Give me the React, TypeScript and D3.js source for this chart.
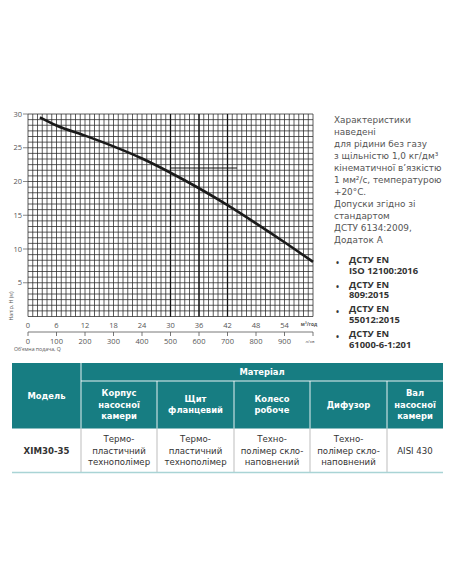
import * as d3 from 'd3'

const W = 452
const H = 584

// performance curve
const flowM3h = [2.5, 6, 12, 18, 24, 30, 36, 42, 48, 54, 60]
const headM = [29.5, 28.3, 26.8, 25.2, 23.4, 21.3, 19.0, 16.5, 13.8, 11.0, 8.1]

const qTicks = [0, 6, 12, 18, 24, 30, 36, 42, 48, 54]
const lpmTicks = [0, 100, 200, 300, 400, 500, 600, 700, 800, 900]
const headTicks = [5, 10, 15, 20, 25, 30]
const markedFlows = [30, 36, 42]
const dutyPoint = { q0: 30, q1: 44, h: 22 }

const noteLines = [
  'Характеристики',
  'наведені',
  'для рідини без газу',
  'з щільністю 1,0 кг/дм³',
  'кінематичної в’язкістю',
  '1 мм²/с, температурою',
  '+20°C.',
  'Допуски згідно зі',
  'стандартом',
  'ДСТУ 6134:2009,',
  'Додаток А',
]
const standards = [
  ['ДСТУ EN', 'ISO 12100:2016'],
  ['ДСТУ EN', '809:2015'],
  ['ДСТУ EN', '55012:2015'],
  ['ДСТУ EN', '61000-6-1:201'],
]

const modelHeader = 'Модель'
const groupHeader = 'Матеріал'
const partHeaders = [
  ['Корпус', 'насосної', 'камери'],
  ['Щит', 'фланцевий'],
  ['Колесо', 'робоче'],
  ['Дифузор'],
  ['Вал', 'насосної', 'камери'],
]
const modelName = 'ХІМ30-35'
const partMaterials = [
  ['Термо-', 'пластичний', 'технополімер'],
  ['Термо-', 'пластичний', 'технополімер'],
  ['Техно-', 'полімер скло-', 'наповнений'],
  ['Техно-', 'полімер скло-', 'наповнений'],
  ['AISI 430'],
]

const TEAL = '#177d82'
const FONT = '"Open Sans", "Noto Sans", sans-serif'
const WIDE_FONT = '"DejaVu Sans", "Open Sans", sans-serif'
const GRID_COLOR = '#262626'

const x = d3.scaleLinear([0, 60], [28, 313])
const xl = d3.scaleLinear([0, 1000], [28, 313])
const y = d3.scaleLinear([0, 30], [316.5, 114])

// table column edges
const colEdges = [12, 81, 157, 234, 310, 387, 443]
const TABLE_TOP = 363
const GROUP_BOTTOM = 381
const HEAD_BOTTOM = 428.5
const ROW_BOTTOM = 472.5

function MultiLine({ lines, cx, cy, lh, ...rest }: any) {
  const top = cy - ((lines.length - 1) * lh) / 2
  return (
    <text textAnchor="middle" {...rest}>
      {lines.map((l: string, i: number) => (
        <tspan key={i} x={cx} y={top + i * lh} dy="0.35em">
          {l}
        </tspan>
      ))}
    </text>
  )
}

function Chart() {
  const vGrid = d3.range(0, 61, 1)
  const hGrid = d3.range(0, 37).map((i) => (i * 30) / 36)
  const line = d3
    .line<number>()
    .x((_, i) => x(flowM3h[i]))
    .y((d) => y(d))
    .curve(d3.curveMonotoneX)

  return (
    <g style={{ fontFamily: FONT }}>
      {/* fine grid */}
      <g stroke={GRID_COLOR} strokeWidth={0.75}>
        {vGrid.map((q) => (
          <line key={'v' + q} x1={x(q)} x2={x(q)} y1={y(0)} y2={y(30)} />
        ))}
        {hGrid.map((h, i) => (
          <line key={'h' + i} x1={x(0)} x2={x(60)} y1={y(h)} y2={y(h)} />
        ))}
      </g>
      <g stroke="#111" strokeWidth={1.3}>
        {markedFlows.map((q) => (
          <line key={q} x1={x(q)} x2={x(q)} y1={y(0)} y2={y(30)} />
        ))}
        <line
          x1={x(dutyPoint.q0)}
          x2={x(dutyPoint.q1)}
          y1={y(dutyPoint.h)}
          y2={y(dutyPoint.h)}
          strokeWidth={1}
        />
      </g>
      <path d={line(headM) ?? ''} fill="none" stroke="#1a1a1a" strokeWidth={2.6} />

      {/* y axis */}
      <g fontSize={7.5} fill="#555">
        {headTicks.map((h) => (
          <g key={h}>
            <line x1={x(0) - 5} x2={x(0)} y1={y(h)} y2={y(h)} stroke="#555" strokeWidth={0.7} />
            <text x={x(0) - 6} y={y(h)} dy="0.35em" textAnchor="end">
              {h}
            </text>
          </g>
        ))}
      </g>
      <text
        transform="translate(13,306) rotate(-90)"
        textAnchor="middle"
        fontSize={5.2}
        fill="#555"
      >
        Напір, H (м)
      </text>

      {/* x axis, m3/h */}
      <g fontSize={7.5} fill="#555">
        {qTicks.map((q) => (
          <text key={q} x={x(q)} y={325} dy="0.35em" textAnchor="middle">
            {q}
          </text>
        ))}
        <text x={309} y={324.5} dy="0.35em" textAnchor="middle" fontSize={4.8} fontWeight="bold">
          м³/год
        </text>
      </g>

      {/* x axis, l/min */}
      <g fontSize={7.5} fill="#555">
        <line x1={xl(0)} x2={xl(1000)} y1={332} y2={332} stroke="#555" strokeWidth={0.8} />
        {d3.range(0, 1001, 100).map((v) => (
          <line key={v} x1={xl(v)} x2={xl(v)} y1={332} y2={336} stroke="#555" strokeWidth={0.8} />
        ))}
        {lpmTicks.map((v) => (
          <text key={v} x={xl(v)} y={341} dy="0.35em" textAnchor="middle">
            {v}
          </text>
        ))}
        <text x={310} y={341} dy="0.35em" textAnchor="middle" fontSize={4.3}>
          л/хв
        </text>
      </g>
      <text x={14} y={349} dy="0.35em" fontSize={5.2} fill="#555">
        Об’ємна подача, Q
      </text>
    </g>
  )
}

function Notes() {
  return (
    <g>
      <text style={{ fontFamily: WIDE_FONT }} fontSize={8.9} fill="#555">
        {noteLines.map((t, i) => (
          <tspan key={i} x={334} y={119.5 + i * 12.05} dy="0.35em">
            {t}
          </tspan>
        ))}
      </text>
      <g style={{ fontFamily: FONT }} fontSize={9.4} fill="#333" fontWeight="bold">
        {standards.map((s, i) => (
          <g key={i}>
            <text x={336} y={263 + i * 24.6} dy="0.35em" fontSize={8}>
              •
            </text>
            <text>
              <tspan x={349} y={260 + i * 24.6} dy="0.35em">
                {s[0]}
              </tspan>
              <tspan x={349} y={270.5 + i * 24.6} dy="0.35em">
                {s[1]}
              </tspan>
            </text>
          </g>
        ))}
      </g>
    </g>
  )
}

function Table() {
  const mid = (i: number) => (colEdges[i] + colEdges[i + 1]) / 2
  const last = colEdges[colEdges.length - 1]
  return (
    <g style={{ fontFamily: WIDE_FONT }}>
      <rect x={colEdges[0]} y={TABLE_TOP} width={last - colEdges[0]} height={HEAD_BOTTOM - TABLE_TOP} fill={TEAL} />
      <g stroke="#fff" strokeWidth={0.9}>
        <line x1={colEdges[1]} x2={colEdges[1]} y1={TABLE_TOP} y2={HEAD_BOTTOM} />
        <line x1={colEdges[1]} x2={last} y1={GROUP_BOTTOM} y2={GROUP_BOTTOM} />
        {colEdges.slice(2, -1).map((e) => (
          <line key={e} x1={e} x2={e} y1={GROUP_BOTTOM} y2={HEAD_BOTTOM} />
        ))}
      </g>
      <g stroke="#b5b5b5" strokeWidth={0.9}>
        {colEdges.slice(1, -1).map((e) => (
          <line key={e} x1={e} x2={e} y1={HEAD_BOTTOM} y2={ROW_BOTTOM} />
        ))}
      </g>
      <line x1={colEdges[0]} x2={last} y1={ROW_BOTTOM} y2={ROW_BOTTOM} stroke="#a9d4d5" strokeWidth={1.6} />

      <g fill="#fff" fontWeight="bold" fontSize={8.4}>
        <text x={mid(0)} y={(TABLE_TOP + HEAD_BOTTOM) / 2} dy="0.35em" textAnchor="middle">
          {modelHeader}
        </text>
        <text x={(colEdges[1] + last) / 2} y={(TABLE_TOP + GROUP_BOTTOM) / 2} dy="0.35em" textAnchor="middle">
          {groupHeader}
        </text>
        {partHeaders.map((lines, i) => (
          <MultiLine key={i} lines={lines} cx={mid(i + 1)} cy={(GROUP_BOTTOM + HEAD_BOTTOM) / 2} lh={11.6} />
        ))}
      </g>

      <g fill="#333" fontSize={8.6}>
        <text x={mid(0)} y={(HEAD_BOTTOM + ROW_BOTTOM) / 2} dy="0.35em" textAnchor="middle" fontWeight="bold">
          {modelName}
        </text>
        {partMaterials.map((lines, i) => (
          <MultiLine key={i} lines={lines} cx={mid(i + 1)} cy={(HEAD_BOTTOM + ROW_BOTTOM) / 2} lh={11.6} />
        ))}
      </g>
    </g>
  )
}

export default function App() {
  return (
    <div style={{ position: 'absolute', left: 0, top: 0, width: W, height: H, background: '#fff' }}>
      <svg width={W} height={H} viewBox={`0 0 ${W} ${H}`} style={{ display: 'block' }}>
        <rect width={W} height={H} fill="#fff" />
        <Chart />
        <Notes />
        <Table />
      </svg>
    </div>
  )
}
